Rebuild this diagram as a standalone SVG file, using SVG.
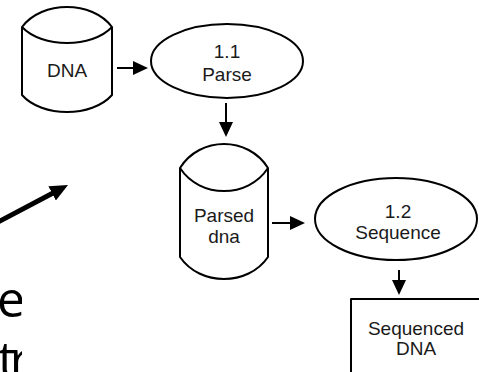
<svg xmlns="http://www.w3.org/2000/svg" width="479" height="372" viewBox="0 0 479 372">
  <style>
    .shape { fill: #ffffff; stroke: #000000; stroke-width: 2; stroke-linejoin: round; }
    .label { font-family: "Liberation Sans", Arial, sans-serif; font-size: 19px; fill: #1a1a1a; text-anchor: middle; }
    .conn { stroke: #000000; stroke-width: 2; fill: none; }
    .bold { stroke: #000000; stroke-width: 5; fill: none; }
    .big { font-family: "Open Sans", "DejaVu Sans", sans-serif; font-size: 50px; fill: #000000; }
  </style>
  <defs>
    <marker id="head" markerUnits="userSpaceOnUse" markerWidth="15" markerHeight="15" viewBox="0 0 15 15" refX="7" refY="7.5" orient="auto">
      <path d="M0,0.5 L15,7.5 L0,14.5 Z" fill="#000000"/>
    </marker>
    <marker id="boldhead" markerUnits="userSpaceOnUse" markerWidth="18" markerHeight="16" viewBox="0 0 18 16" refX="8" refY="8" orient="auto">
      <path d="M0,0 L18,8 L0,16 Z" fill="#000000"/>
    </marker>
    <clipPath id="leftclip">
      <rect x="0" y="260" width="22" height="112"/>
    </clipPath>
  </defs>

  <rect x="0" y="0" width="479" height="372" fill="#ffffff"/>

  <g id="background-text" clip-path="url(#leftclip)">
    <text class="big" x="-3" y="317">e</text>
    <text class="big" x="-2" y="377" letter-spacing="-6">tr</text>
  </g>

  <g id="node-dna">
    <path class="shape" d="M22,27 C42,0.3 92,0.3 112,27 L112,95 C92,117.7 42,117.7 22,95 Z"/>
    <path class="shape" fill="none" d="M22,27 C42,48.3 92,48.3 112,27"/>
    <text class="label" x="67" y="77">DNA</text>
  </g>

  <g id="node-parse">
    <ellipse class="shape" cx="227" cy="61" rx="76" ry="37"/>
    <text class="label" x="227" y="58">1.1</text>
    <text class="label" x="227" y="81">Parse</text>
  </g>

  <g id="node-parsed-dna">
    <path class="shape" d="M180,168 C200,136 248,136 268,168 L268,257 C248,286.3 200,286.3 180,257 Z"/>
    <path class="shape" fill="none" d="M180,168 C200,198.7 248,198.7 268,168"/>
    <text class="label" x="224" y="222">Parsed</text>
    <text class="label" x="224" y="243">dna</text>
  </g>

  <g id="node-sequence">
    <ellipse class="shape" cx="396" cy="219" rx="81" ry="41"/>
    <text class="label" x="398" y="218">1.2</text>
    <text class="label" x="398" y="239">Sequence</text>
  </g>

  <g id="node-sequenced-dna">
    <rect class="shape" x="351" y="299" width="150" height="100"/>
    <text class="label" x="416" y="335">Sequenced</text>
    <text class="label" x="416" y="355">DNA</text>
  </g>

  <g id="connectors">
    <line class="conn" x1="117" y1="68" x2="140" y2="68" marker-end="url(#head)"/>
    <line class="conn" x1="226" y1="103" x2="226" y2="129" marker-end="url(#head)"/>
    <line class="conn" x1="272" y1="223" x2="297" y2="223" marker-end="url(#head)"/>
    <line class="conn" x1="399" y1="270" x2="399" y2="287" marker-end="url(#head)"/>
    <line class="bold" x1="-3" y1="222.6" x2="59.2" y2="189.7" marker-end="url(#boldhead)"/>
  </g>
</svg>
